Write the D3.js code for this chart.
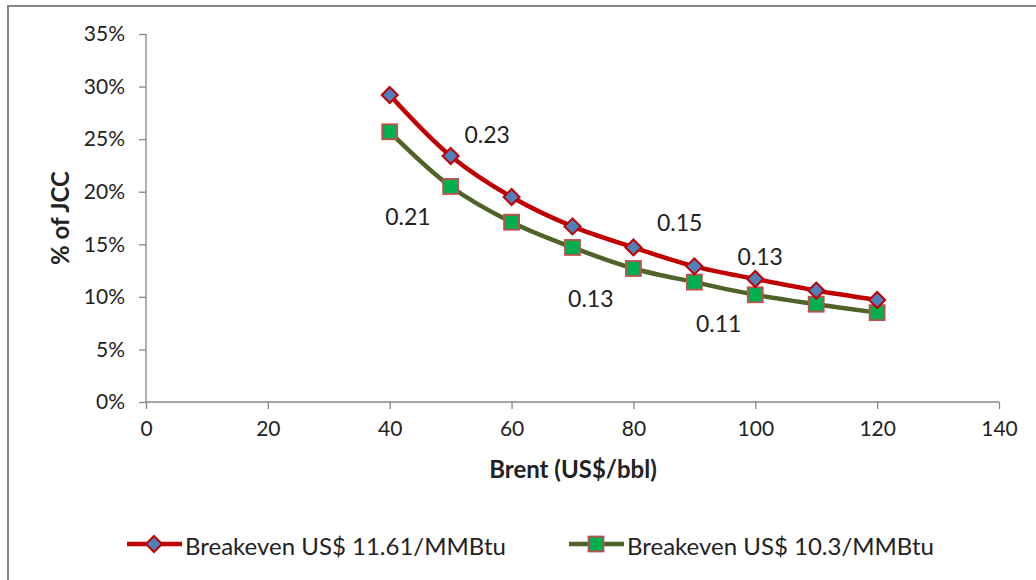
<!DOCTYPE html>
<html><head><meta charset="utf-8">
<script src="https://cdn.jsdelivr.net/npm/d3@7"></script>
<style>body{margin:0;background:#fff}svg{display:block}text{font-family:Lato,"Open Sans",sans-serif;fill:#222}</style>
</head><body><svg id="c" width="1036" height="580"></svg>
<script>
const brent = [40, 50, 60, 70, 80, 90, 100, 110, 120];
const seriesNames = ["Breakeven US$ 11.61/MMBtu", "Breakeven US$ 10.3/MMBtu"];
const breakeven1161 = [0.292, 0.234, 0.195, 0.167, 0.147, 0.129, 0.117, 0.106, 0.097];
const breakeven103 = [0.257, 0.205, 0.171, 0.147, 0.127, 0.114, 0.102, 0.093, 0.085];
const xTicks = [0, 20, 40, 60, 80, 100, 120, 140];
const yTicks = [0, 0.05, 0.10, 0.15, 0.20, 0.25, 0.30, 0.35];
const annotations = [
  {x: 56, y: 0.255, text: "0.23"},
  {x: 43, y: 0.177, text: "0.21"},
  {x: 87.6, y: 0.171, text: "0.15"},
  {x: 100.8, y: 0.139, text: "0.13"},
  {x: 73, y: 0.099, text: "0.13"},
  {x: 94, y: 0.075, text: "0.11"}
];

const svg = d3.select("#c");
const x = d3.scaleLinear().domain([0, 140]).range([146, 999]);
const y = d3.scaleLinear().domain([0, 0.35]).range([402, 34]);

svg.append("rect").attr("x", 8).attr("y", 6).attr("width", 1200).attr("height", 800)
  .attr("fill", "none").attr("stroke", "#868686").attr("stroke-width", 2);

const axisColor = "#868686";
const gx = svg.append("g").attr("transform", "translate(0,402)")
  .call(d3.axisBottom(x).tickValues(xTicks).tickSize(7).tickSizeOuter(0).tickPadding(12));
const gy = svg.append("g").attr("transform", "translate(146,0)")
  .call(d3.axisLeft(y).tickValues(yTicks).tickSize(7).tickSizeOuter(0).tickPadding(14).tickFormat(d3.format(".0%")));
[gx, gy].forEach(g => {
  g.selectAll("path,line").attr("stroke", axisColor).attr("stroke-width", 1.3);
  g.selectAll("text").style("font-family", "Lato, sans-serif").style("font-size", "21px").attr("fill", "#222");
});
gx.select(".domain").attr("d", "M146,0H999");
gy.select(".domain").attr("d", "M0,402V34");

svg.append("text").attr("x", 573).attr("y", 478).attr("text-anchor", "middle")
  .style("font-size", "24px").style("font-weight", "bold").text("Brent (US$/bbl)");
svg.append("text").attr("transform", "translate(69,218) rotate(-90)").attr("text-anchor", "middle")
  .style("font-size", "24px").style("font-weight", "bold").text("% of JCC");

const line = d3.line().x((d, i) => x(brent[i])).y(d => y(d)).curve(d3.curveCatmullRom.alpha(0.5));

const styles = [
  {data: breakeven1161, line: "#c00000", fill: "#4f81bd", mstroke: "#c00000", shape: "diamond"},
  {data: breakeven103, line: "#4f6228", fill: "#00b050", mstroke: "#c0504d", shape: "square"}
];

function marker(g, s, cx, cy) {
  if (s.shape === "diamond") {
    g.append("path").attr("d", `M${cx},${cy-8}L${cx+8},${cy}L${cx},${cy+8}L${cx-8},${cy}Z`)
      .attr("fill", s.fill).attr("stroke", s.mstroke).attr("stroke-width", 2);
  } else {
    g.append("rect").attr("x", cx - 7.5).attr("y", cy - 7.5).attr("width", 15).attr("height", 15)
      .attr("fill", s.fill).attr("stroke", s.mstroke).attr("stroke-width", 1.8);
  }
}

[styles[1], styles[0]].forEach(s => {
  svg.append("path").datum(s.data).attr("d", line).attr("fill", "none")
    .attr("stroke", s.line).attr("stroke-width", 4.5);
  const g = svg.append("g");
  s.data.forEach((v, i) => marker(g, s, x(brent[i]), y(v)));
});

annotations.forEach(a => {
  svg.append("text").attr("x", x(a.x)).attr("y", y(a.y)).attr("text-anchor", "middle")
    .attr("dominant-baseline", "central").style("font-size", "23px").text(a.text);
});

const legendX = [127, 569];
styles.forEach((s, i) => {
  const lx = legendX[i];
  const g = svg.append("g");
  g.append("line").attr("x1", lx).attr("x2", lx + 55).attr("y1", 544).attr("y2", 544)
    .attr("stroke", s.line).attr("stroke-width", 4.5);
  marker(g, s, lx + 27, 544);
  g.append("text").attr("x", lx + 58).attr("y", 545).attr("dominant-baseline", "central")
    .style("font-size", "24px").text(seriesNames[i]);
});
</script></body></html>
